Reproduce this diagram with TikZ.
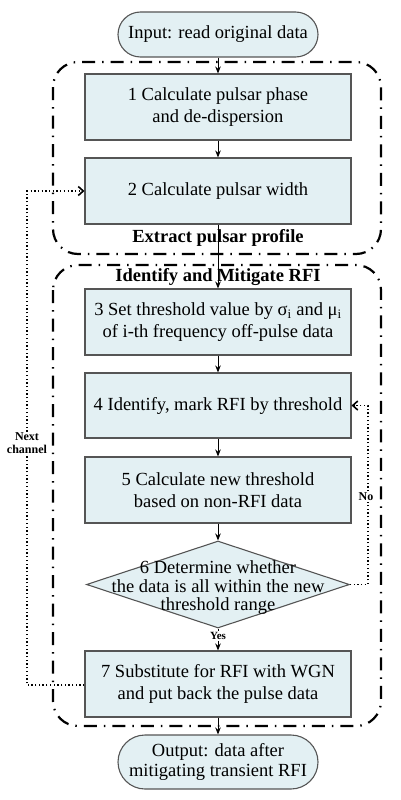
\documentclass[tikz,border=0pt]{standalone}
\usepackage{fontspec}
\setmainfont{Liberation Serif}
\usetikzlibrary{shapes.geometric,arrows.meta}
\definecolor{boxfill}{RGB}{227,240,243}
\definecolor{boxline}{RGB}{85,85,85}
\tikzset{
  procbox/.style={draw=boxline, line width=1.1pt, fill=boxfill, minimum width=266pt, minimum height=66pt, inner sep=0pt, align=center, font=\fontsize{18.5}{22}\selectfont},
  termbox/.style={draw=boxline, line width=1.1pt, fill=boxfill, minimum width=200pt, inner sep=0pt, align=center, font=\fontsize{18.5}{21}\selectfont},
  decbox/.style={draw=boxline, line width=1.1pt, fill=boxfill, diamond, minimum width=263pt, minimum height=87pt, inner sep=0pt},
  groupbox/.style={draw=black, line width=2.2pt, rounded corners=25pt, dash pattern=on 13pt off 7pt on 1.5pt off 7pt},
  grouplabel/.style={font=\fontsize{18.5}{22}\selectfont\bfseries, inner sep=0pt},
  flow/.style={draw=black, line width=0.9pt, -{Stealth[length=7pt,width=5.5pt]}},
  loopline/.style={draw=black, line width=1.3pt, dash pattern=on 1.3pt off 2.4pt, -{Straight Barb[length=5pt,width=9pt,line width=1.6pt]}},
  smalllabel/.style={font=\fontsize{12}{13}\selectfont\bfseries, fill=white, inner sep=1pt, align=center}
}
\begin{document}
\begin{tikzpicture}[x=1pt,y=-1pt]
\useasboundingbox (0,0) rectangle (400,800);
% groups
\draw[groupbox] (53,62) rectangle (381,254);
\draw[groupbox] (53,265) rectangle (381,726);
\node[grouplabel] (lab1) at (218,238) {Extract pulsar profile};
\node[grouplabel] (lab2) at (218,277) {Identify and Mitigate RFI};
% nodes
\node[termbox, minimum height=45pt, rounded corners=22.5pt] (in) at (218,34.5) {Input: read original data};
\node[procbox] (b1) at (218,107) {1 Calculate pulsar phase\\and de-dispersion};
\node[procbox] (b2) at (218,191) {2 Calculate pulsar width};
\node[procbox] (b3) at (218,322) {3 Set threshold value by σ\textsubscript{i} and μ\textsubscript{i}\\of i-th frequency off-pulse data};
\node[procbox, minimum height=65pt] (b4) at (218,405.5) {4 Identify, mark RFI by threshold};
\node[procbox] (b5) at (218,490) {5 Calculate new threshold\\based on non-RFI data};
\node[decbox] (d6) at (218,584.5) {};
\node[align=center, inner sep=0pt, font=\fontsize{18.5}{18.5}\selectfont] (t6) at (218,588) {6 Determine whether\\the data is all within the new\\threshold range};
\node[procbox] (b7) at (218,684) {7 Substitute for RFI with WGN\\and put back the pulse data};
\node[termbox, minimum height=54pt, rounded corners=27pt, font=\fontsize{18.5}{20.5}\selectfont] (out) at (218,762) {Output: data after\\mitigating transient RFI};
% main flow
\draw[flow] (in) -- (b1);
\draw[flow] (b1) -- (b2);
\draw[flow] (b2) -- (b3);
\draw[flow] (b3) -- (b4);
\draw[flow] (b4) -- (b5);
\draw[flow] (b5) -- (d6);
\draw[flow] (d6) -- (b7);
\draw[flow] (b7) -- (out);
\node[font=\fontsize{11}{12}\selectfont\bfseries, fill=white, inner sep=1pt] (yes) at (218,636) {Yes};
% feedback loops
\coordinate (l1) at (27,685);
\coordinate (l2) at (27,191);
\draw[loopline] (b7.west |- l1) -- (l1) -- (l2) -- (b2.west);
\node[smalllabel] (nc) at (27,443) {Next\\channel};
\coordinate (r1) at (368,584.5);
\coordinate (r2) at (368,405.5);
\draw[loopline] (d6.east) -- (r1) -- (r2) -- (b4.east);
\node[smalllabel] (no) at (366,497) {No};
\end{tikzpicture}
\end{document}
